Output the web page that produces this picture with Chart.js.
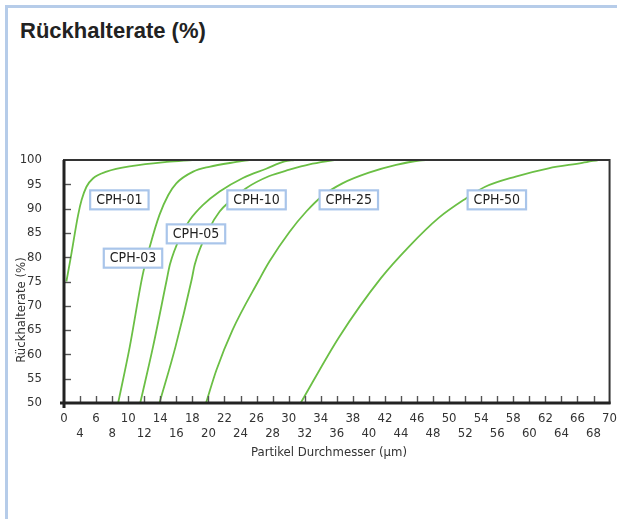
<!DOCTYPE html>
<html>
<head>
<meta charset="utf-8">
<script src="https://cdn.jsdelivr.net/npm/chart.js@4/dist/chart.umd.min.js"></script>
<style>
  html, body { margin: 0; padding: 0; background: #fff; }
  #wrap { position: relative; width: 617px; height: 519px; overflow: hidden; }
  #rahmen { position: absolute; left: 5px; top: 5px; right: -10px; bottom: -10px;
            border-top: 3px solid #b6cce9; border-left: 3px solid #b6cce9; }
  #titel { position: absolute; left: 20px; top: 18px; font: bold 22px "Liberation Sans", Arial, sans-serif; color: #222; }
  #chart { position: absolute; left: 0; top: 0; }
</style>
</head>
<body>
<div id="wrap">
  <div id="rahmen"></div>
  <div id="titel">Rückhalterate (%)</div>
  <canvas id="chart" width="617" height="519"></canvas>
</div>
<script>
// x-Achse ist gestaucht: 0, 4, 6, 8 ... 70 mit gleichem Abstand
const xTicks = [0, 4, 6, 8, 10, 12, 14, 16, 18, 20, 22, 24, 26, 28, 30, 32, 34, 36, 38, 40,
                42, 44, 46, 48, 50, 52, 54, 56, 58, 60, 62, 64, 66, 68, 70];

// Partikel Durchmesser (µm) / Rückhalterate (%)
const cph01X = [0.6, 1.7, 3.5, 4.2, 4.8, 5.6, 7.3, 10.6, 14.8, 18];
const cph01Y = [75, 80, 88.6, 91.8, 94.5, 96.2, 97.6, 98.8, 99.6, 100];

const cph03X = [8.75, 10.2, 11.8, 12.7, 13.9, 15.0, 16.0, 18.1, 20.1, 23.5, 25.1];
const cph03Y = [50, 61.6, 76.3, 82.2, 88.7, 92.8, 95.2, 97.6, 98.6, 99.6, 100];

const cph05X = [11.5, 13.1, 14.8, 15.2, 16.6, 17.7, 19.3, 21.4, 24.3, 27.2, 29.5, 30.7];
const cph05Y = [50, 61.6, 75.3, 78.5, 84.6, 87.7, 90.7, 93.5, 96.3, 98.2, 99.7, 100];

const cph10X = [13.9, 15.9, 17.9, 18.3, 20.1, 21.4, 22.6, 24.7, 27.6, 30.1, 32.6, 35.7];
const cph10Y = [50, 61.6, 75.3, 78.5, 85.9, 89.4, 91.4, 94.2, 96.7, 98.0, 99.1, 100];

const cph25X = [19.7, 21.0, 23.0, 26.3, 27.6, 30.1, 32.2, 34.2, 36.7, 40.0, 43.4, 46.3, 47.5];
const cph25Y = [50, 56.8, 65.0, 75.3, 79.1, 85.2, 89.4, 92.6, 95.2, 97.4, 99.0, 99.9, 100];

const cph50X = [31.5, 36.3, 41.5, 45.0, 48.7, 52.1, 54.5, 58.3, 62.4, 66.6, 68.6];
const cph50Y = [50, 63.6, 75.7, 82.2, 88.1, 92.1, 94.5, 96.6, 98.3, 99.4, 100];

// Beschriftungen (Mitte der Kästchen, in Achsenwerten)
const labelText = ["CPH-01", "CPH-03", "CPH-05", "CPH-10", "CPH-25", "CPH-50"];
const labelX = [8.9, 10.6, 18.45, 26.0, 37.5, 55.95];
const labelY = [91.8, 79.8, 84.8, 91.8, 91.8, 91.8];

const yMin = 50, yMax = 100, yStep = 5;

const gruen = "#6bbf45";
const schrift = "'Liberation Sans Narrow', 'DejaVu Sans Condensed', 'Roboto Condensed', sans-serif";

// µm -> Position auf der gestauchten Achse
function toPos(v){
    for (let i = 0; i < xTicks.length - 1; i++){
        if (v <= xTicks[i+1]){
            return i + (v - xTicks[i]) / (xTicks[i+1] - xTicks[i]);
        }
    }
    return xTicks.length - 1;
}

function serie(xs, ys){
    return xs.map((x, i) => ({x: toPos(x), y: ys[i]}));
}

function dataset(xs, ys){
    return {
        data: serie(xs, ys),
        borderColor: gruen,
        borderWidth: 1.8,
        pointRadius: 0,
        fill: false,
        cubicInterpolationMode: 'monotone'
    };
}

const rahmenPlugin = {
    id: 'rahmen',
    afterDatasetsDraw(chart){
        const ctx = chart.ctx;
        const a = chart.chartArea;
        const xs = chart.scales.x, ys = chart.scales.y;
        ctx.save();

        // Ticks nach innen
        ctx.strokeStyle = "#555";
        ctx.lineWidth = 1.4;
        for (let v = yMin + yStep; v < yMax; v += yStep){
            let py = Math.round(ys.getPixelForValue(v)) + 0.5;
            ctx.beginPath();
            ctx.moveTo(a.left, py);
            ctx.lineTo(a.left + 7, py);
            ctx.stroke();
        }
        for (let i = 1; i < xTicks.length - 1; i++){
            let px = Math.round(xs.getPixelForValue(i)) + 0.5;
            ctx.beginPath();
            ctx.moveTo(px, a.bottom);
            ctx.lineTo(px, a.bottom - 7);
            ctx.stroke();
        }

        // Rahmen
        ctx.strokeStyle = "#333";
        ctx.lineWidth = 2;
        ctx.strokeRect(a.left, a.top, a.right - a.left, a.bottom - a.top);
        ctx.strokeStyle = "#222";
        ctx.lineWidth = 3;
        ctx.beginPath();
        ctx.moveTo(a.left, a.top);
        ctx.lineTo(a.left, a.bottom + 5);
        ctx.moveTo(a.left - 4, a.bottom);
        ctx.lineTo(a.right + 1, a.bottom);
        ctx.stroke();

        // Kästchen
        ctx.font = "14px " + schrift;
        ctx.textAlign = "center";
        ctx.textBaseline = "middle";
        for (let i = 0; i < labelText.length; i++){
            let cx = xs.getPixelForValue(toPos(labelX[i]));
            let cy = ys.getPixelForValue(labelY[i]);
            let w = ctx.measureText(labelText[i]).width + 12;
            let h = 19;
            ctx.fillStyle = "#fff";
            ctx.fillRect(cx - w/2, cy - h/2, w, h);
            ctx.strokeStyle = "#a9c5ea";
            ctx.lineWidth = 2.2;
            ctx.strokeRect(cx - w/2, cy - h/2, w, h);
            ctx.fillStyle = "#222";
            ctx.fillText(labelText[i], cx, cy + 0.5);
        }

        // Achsentitel
        ctx.fillStyle = "#333";
        ctx.font = "13px " + schrift;
        ctx.fillText("Partikel Durchmesser (µm)", 329, 453);
        ctx.translate(22, 310);
        ctx.rotate(-Math.PI/2);
        ctx.fillText("Rückhalterate (%)", 0, 0);
        ctx.restore();
    }
};

new Chart(document.getElementById("chart"), {
    type: 'line',
    data: {
        datasets: [
            dataset(cph01X, cph01Y),
            dataset(cph03X, cph03Y),
            dataset(cph05X, cph05Y),
            dataset(cph10X, cph10Y),
            dataset(cph25X, cph25Y),
            dataset(cph50X, cph50Y)
        ]
    },
    options: {
        responsive: false,
        animation: false,
        layout: { padding: { top: 160, left: 10, right: 6, bottom: 0 } },
        plugins: { legend: { display: false }, tooltip: { enabled: false } },
        scales: {
            x: {
                type: 'linear',
                min: 0,
                max: xTicks.length - 1,
                grid: { display: false },
                border: { display: false },
                afterFit: s => { s.height = 116; },
                ticks: {
                    stepSize: 1,
                    maxTicksLimit: 50,
                    autoSkip: false,
                    maxRotation: 0,
                    padding: 0,
                    color: "#333",
                    font: { family: schrift, size: 13, lineHeight: 1.15 },
                    callback: (v) => {
                        let i = Math.round(v);
                        return i % 2 == 0 ? String(xTicks[i]) : ["", String(xTicks[i])];
                    }
                }
            },
            y: {
                min: yMin,
                max: yMax,
                grid: { display: false },
                border: { display: false },
                afterFit: s => { s.width = 54; },
                ticks: {
                    stepSize: yStep,
                    padding: 14,
                    color: "#333",
                    font: { family: schrift, size: 13 }
                }
            }
        }
    },
    plugins: [rahmenPlugin]
});
</script>
</body>
</html>
